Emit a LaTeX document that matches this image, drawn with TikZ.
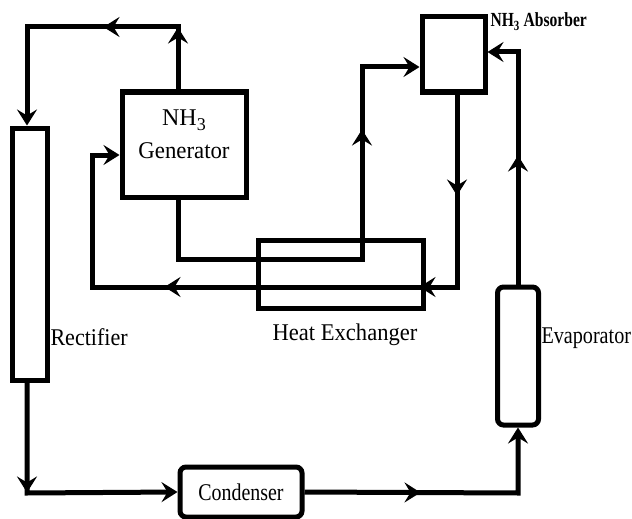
\documentclass[tikz,border=0pt]{standalone}
\usepackage{fontspec}
\usepackage{graphicx}
\setmainfont{Liberation Serif}
\usetikzlibrary{arrows.meta,decorations.markings}

\newcommand{\squeeze}[2]{\scalebox{#1}[1]{#2}}

\begin{document}
\begin{tikzpicture}[
  x=1pt,y=-1pt,
  font=\fontsize{24}{33}\selectfont,
  line width=5pt,
  >={Stealth[length=16pt,width=20pt,inset=6pt]},
  unit/.style={draw,rectangle,inner sep=0pt,align=center},
  tank/.style={unit,rounded corners=6pt},
  tag/.style={inner sep=0pt},
  flow/.style={draw,->},
  tipat/.style={postaction={decorate,decoration={markings,
                mark=at position #1 with {\arrow{>}}}}}
]
\useasboundingbox (0,0) rectangle (632,519);

% equipment
\node[unit,minimum width=35pt,minimum height=252pt] (rect) at (30,254) {};
\node[unit,minimum width=124pt,minimum height=105pt,text depth=20pt] (gen)
  at (184,144.5)
  {NH\raisebox{-5pt}{\fontsize{18}{18}\selectfont 3}\\\squeeze{0.95}{Generator}};
\node[unit,minimum width=165pt,minimum height=68pt] (hx) at (340.5,274) {};
\node[unit,minimum width=63pt,minimum height=75pt] (abs) at (453.5,54.5) {};
\node[tank,minimum width=41pt,minimum height=138pt] (evap) at (518,356) {};
\node[tank,minimum width=122pt,minimum height=50pt] (cond) at (241,492)
  {\squeeze{0.83}{Condenser}};

% labels
\node[tag,anchor=base west] (rectlabel) at (48,345) {\squeeze{0.92}{Rectifier}};
\node[tag,anchor=base] (hxlabel) at (345,340) {\squeeze{0.94}{Heat Exchanger}};
\node[tag,anchor=base west] (evaplabel) at (539,343)
  {\squeeze{0.84}{Evaporator}};
\node[tag,anchor=base west,font=\fontsize{20}{24}\selectfont\bfseries]
  (abslabel) at (488,27) {\squeeze{0.78}{NH\textsubscript{3} Absorber}};

% pipe corners
\coordinate (topR) at (178,27);
\coordinate (topL) at (27,27);
\coordinate (botL) at (27,493);
\coordinate (botR) at (518,493);
\coordinate (evapTop) at (518,52);
\coordinate (absLoop) at (457,287);
\coordinate (retL) at (92,287);
\coordinate (retUp) at (92,155);
\coordinate (genLow) at (178,259);
\coordinate (hxUp) at (362,259);
\coordinate (hxTop) at (362,67);

% pipes
\draw[flow,tipat=62pt,tipat=137pt]
  (gen.north -| topR) -- (topR) -- (topL) -- (topL |- rect.north);
\draw[flow,tipat=110pt] (topL |- rect.south) -- (botL) -- (cond.west);
\draw[flow,tipat=116pt] (cond.east) -- (botR) -- (evap.south);
\draw[flow,tipat=129pt] (evap.north) -- (evapTop) -- (abs.east |- evapTop);
\draw[flow,tipat=101pt,tipat=230pt,tipat=485pt]
  (abs.south -| absLoop) -- (absLoop) -- (retL) -- (retUp) -- (gen.west |- retUp);
\draw[flow,tipat=373pt]
  (gen.south -| topR) -- (genLow) -- (hxUp) -- (hxTop) -- (abs.west |- hxTop);
\end{tikzpicture}
\end{document}
